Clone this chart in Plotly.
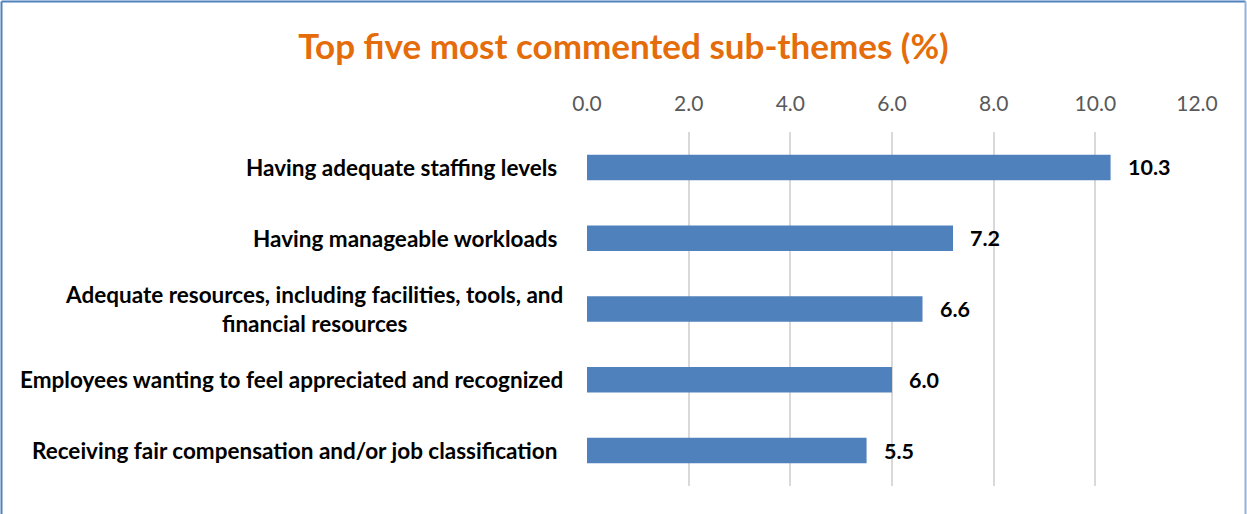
import plotly.graph_objects as go

# Sub-theme categories (top to bottom) and their share of comments (%)
categories = [
    "Having adequate staffing levels ",
    "Having manageable workloads ",
    "Adequate resources, including facilities, tools, and<br>financial resources",
    "Employees wanting to feel appreciated and recognized",
    "Receiving fair compensation and/or job classification ",
]
values = [10.3, 7.2, 6.6, 6.0, 5.5]
tick_values = [0, 2, 4, 6, 8, 10, 12]
tick_labels = ["0.0", "2.0", "4.0", "6.0", "8.0", "10.0", "12.0"]

W, H = 1247, 514
ML, MR, MT, MB = 587, 50, 132, 28
PW, PH = W - ML - MR, H - MT - MB

FONT = "Lato, 'Open Sans', sans-serif"

fig = go.Figure(
    go.Bar(
        x=values,
        y=categories,
        orientation="h",
        marker=dict(color="#4F81BD", line=dict(width=0)),
        width=0.36,
        hoverinfo="skip",
    )
)

# Value labels beside each bar
for cat, v in zip(categories, values):
    fig.add_annotation(
        x=v, y=cat, xref="x", yref="y",
        text=f"<b>{v:.1f}</b>", showarrow=False,
        xanchor="left", xshift=15,
        font=dict(family=FONT, size=21.5, color="#000000"),
    )

# Category labels, right-aligned to the axis, multi-line text centred
for cat in categories:
    fig.add_annotation(
        x=0, y=cat, xref="paper", yref="y",
        text=f"<b>{cat}</b>", showarrow=False,
        xanchor="right", xshift=-22, align="center",
        font=dict(family=FONT, size=22.5, color="#000000"),
    )

# Chart frame
def px(xpix):
    return (xpix - ML) / PW

def py(ypix):
    return (H - MB - ypix) / PH

frame = [
    (1.5, 1.5, 1.5, H + 5, "#4F81BD"),
    (1.5, 1.5, W - 1.5, 1.5, "#4F81BD"),
    (W - 1.5, 1.5, W - 1.5, H + 5, "#8EB4E3"),
]
for x0, y0, x1, y1, col in frame:
    fig.add_shape(
        type="line", xref="paper", yref="paper",
        x0=px(x0), y0=py(y0), x1=px(x1), y1=py(y1),
        line=dict(color=col, width=2),
    )

fig.update_layout(
    width=W, height=H,
    margin=dict(l=ML, r=MR, t=MT, b=MB),
    paper_bgcolor="white",
    plot_bgcolor="white",
    showlegend=False,
    title=dict(
        text="<b>Top five most commented sub-themes (%)</b>",
        x=0.5, xanchor="center", xref="container",
        y=1 - 47 / H, yanchor="middle", yref="container",
        font=dict(family=FONT, size=35, color="#E46C0A"),
    ),
    xaxis=dict(
        side="top",
        range=[0, 12],
        tickvals=tick_values,
        ticktext=tick_labels,
        showgrid=True,
        gridcolor="#D9D9D9",
        gridwidth=1.5,
        zeroline=False,
        showline=False,
        ticks="",
        ticklabelstandoff=16,
        tickfont=dict(family=FONT, size=21, color="#595959"),
    ),
    yaxis=dict(
        autorange="reversed",
        showticklabels=False,
        showgrid=False,
        zeroline=False,
        showline=False,
        ticks="",
    ),
)

fig.write_html("out.html")
